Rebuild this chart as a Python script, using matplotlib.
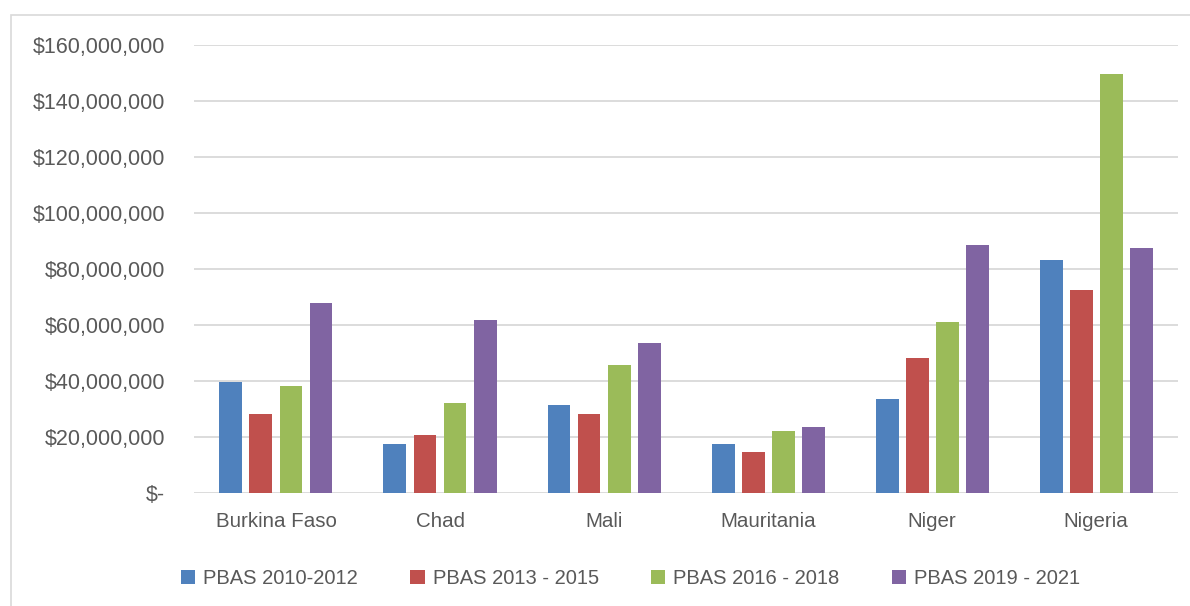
import numpy as np
import matplotlib
matplotlib.use("Agg")
import matplotlib.pyplot as plt
from matplotlib.ticker import FuncFormatter
from matplotlib.patches import Rectangle

# --- data (USD, millions) ---
countries = ["Burkina Faso", "Chad", "Mali", "Mauritania", "Niger", "Nigeria"]
series = ["PBAS 2010-2012", "PBAS 2013 - 2015", "PBAS 2016 - 2018", "PBAS 2019 - 2021"]
pbas_2010_2012 = [39.7, 17.5, 31.5, 17.5, 33.6, 83.2]
pbas_2013_2015 = [28.2, 20.6, 28.3, 14.7, 48.3, 72.6]
pbas_2016_2018 = [38.3, 32.1, 45.8, 22.2, 61.2, 149.7]
pbas_2019_2021 = [67.9, 61.9, 53.7, 23.6, 88.6, 87.7]
colors = ["#4f81bd", "#c0504d", "#9bbb59", "#8064a2"]

values = [pbas_2010_2012, pbas_2013_2015, pbas_2016_2018, pbas_2019_2021]

plt.rcParams['font.family'] = ['Liberation Sans', 'DejaVu Sans']
txt = "#595959"

fig = plt.figure(figsize=(11.9, 6.06), dpi=100)
ax = fig.add_axes([0.163, 0.1865, 0.827, 0.7385])

x = np.arange(len(countries))
pitch = 0.183
width = 0.14
for i, (vals, name, c) in enumerate(zip(values, series, colors)):
    ax.bar(x + (i - 1.5) * pitch, np.array(vals) * 1e6, width=width,
           color=c, label=name, zorder=3)

ax.set_xlim(-0.5, len(countries) - 0.5)
ax.set_ylim(0, 160e6)
ax.set_yticks(np.arange(0, 160e6 + 1, 20e6))
ax.yaxis.set_major_formatter(FuncFormatter(lambda v, p: "$-" if v == 0 else f"${v:,.0f}"))
ax.set_xticks(x)
ax.set_xticklabels(countries)
ax.tick_params(axis='x', length=0, labelsize=14.8, colors=txt, pad=14)
ax.tick_params(axis='y', length=0, labelsize=15.5, colors=txt, pad=21)
ax.grid(axis='y', color="#d9d9d9", linewidth=1.3, zorder=0)
for s in ax.spines.values():
    s.set_visible(False)

leg = fig.legend(loc='center', bbox_to_anchor=(0.53, 0.046), ncol=4, frameon=False,
                 fontsize=14.5, handlelength=0.7, handleheight=0.7,
                 handletextpad=0.4, columnspacing=2.6)
for t in leg.get_texts():
    t.set_color(txt)

fig.patches.append(Rectangle((0.009, -0.01), 1.0, 0.986, transform=fig.transFigure,
                             fill=False, edgecolor="#d9d9d9", linewidth=1.2))

fig.savefig("out.png", dpi=100)
